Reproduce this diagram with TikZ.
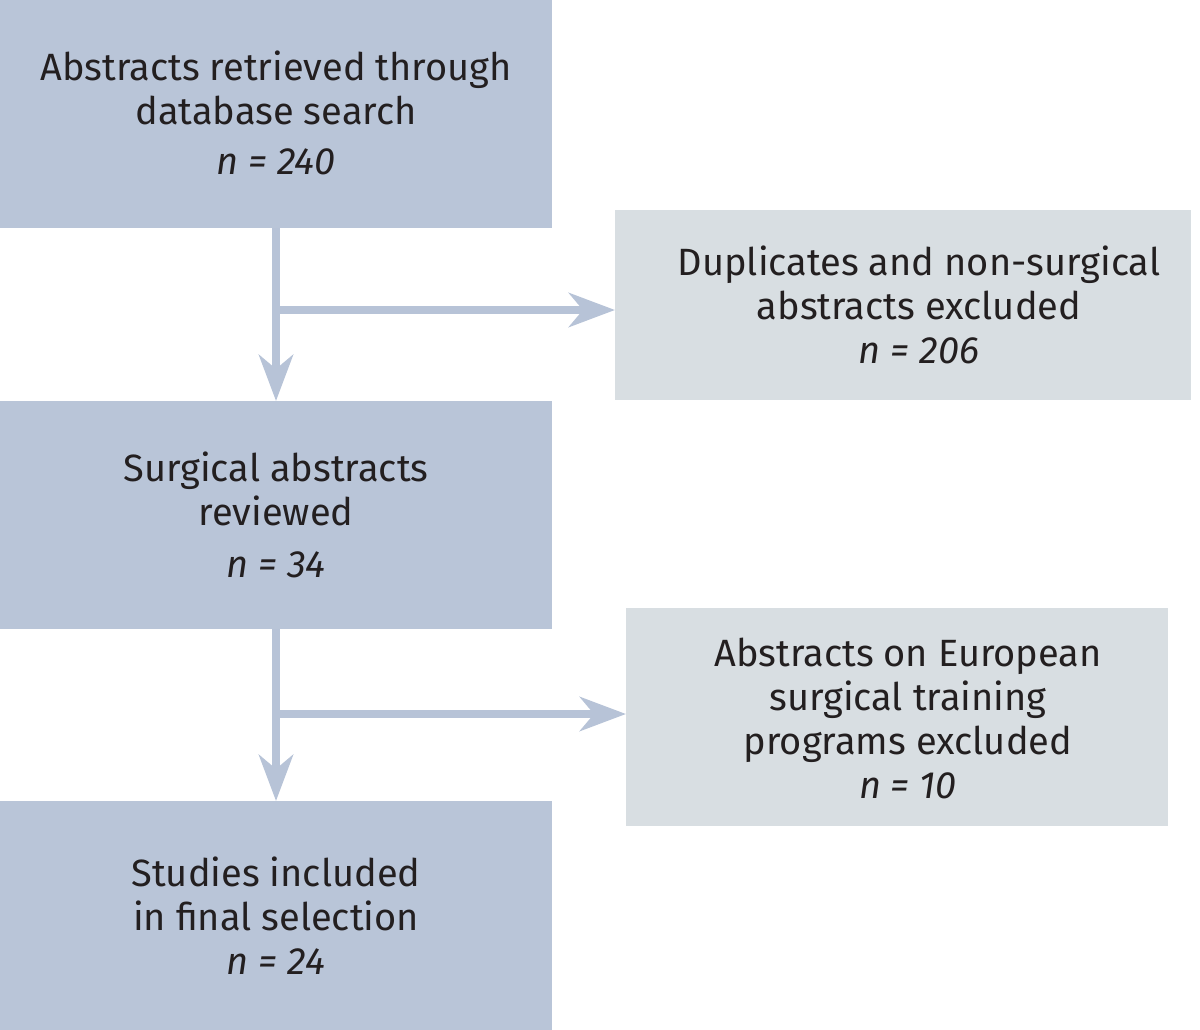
\documentclass[tikz,border=0pt]{standalone}
\usepackage{fontspec}
\setmainfont{Fira Sans}
\usetikzlibrary{arrows.meta}
\definecolor{darkbox}{HTML}{B9C5D8}
\definecolor{lightbox}{HTML}{D8DEE2}
\definecolor{arrowc}{HTML}{B7C3D7}
\definecolor{txt}{HTML}{231F20}
\tikzset{
  boxa/.style={rectangle, fill=darkbox, draw=none, inner sep=0pt, outer sep=0pt, anchor=north west},
  boxb/.style={rectangle, fill=lightbox, draw=none, inner sep=0pt, outer sep=0pt, anchor=north west},
  label/.style={align=center, text=txt, font=\fontsize{38}{44}\selectfont, inner sep=0pt},
  arr/.style={draw=arrowc, line width=8pt, -{Stealth[length=46pt,width=34pt,inset=14pt]}},
}
\begin{document}
\begin{tikzpicture}[x=1pt,y=-1pt]
\useasboundingbox (0,0) rectangle (1200,1030);
\node[boxa, minimum width=552pt, minimum height=228pt] (b1) at (0,0) {};
\node[boxb, minimum width=576pt, minimum height=190pt] (b2) at (615,210) {};
\node[boxa, minimum width=552pt, minimum height=228pt] (b3) at (0,401) {};
\node[boxb, minimum width=542pt, minimum height=218pt] (b4) at (626,608) {};
\node[boxa, minimum width=552pt, minimum height=229pt] (b5) at (0,801) {};

\node[label] (t1) at (276,113) {Abstracts retrieved through\\database search\\[6pt]\textit{n = 240}};
\node[label] (t2) at (919,305) {Duplicates and non-surgical\\abstracts excluded\\\textit{n = 206}};
\node[label] (t3) at (276,515) {Surgical abstracts\\reviewed\\[8pt]\textit{n = 34}};
\node[label] (t4) at (908,718) {Abstracts on European\\surgical training\\programs excluded\\\textit{n = 10}};
\node[label] (t5) at (276,916) {Studies included\\in final selection\\\textit{n = 24}};

\coordinate (j1) at (276,310);
\coordinate (j2) at (276,714);
\draw[arr] (b1.south) -- (b3.north);
\draw[arr] (j1) -- (b2.west |- j1);
\draw[arr] (b3.south) -- (b5.north);
\draw[arr] (j2) -- (b4.west |- j2);
\end{tikzpicture}
\end{document}
